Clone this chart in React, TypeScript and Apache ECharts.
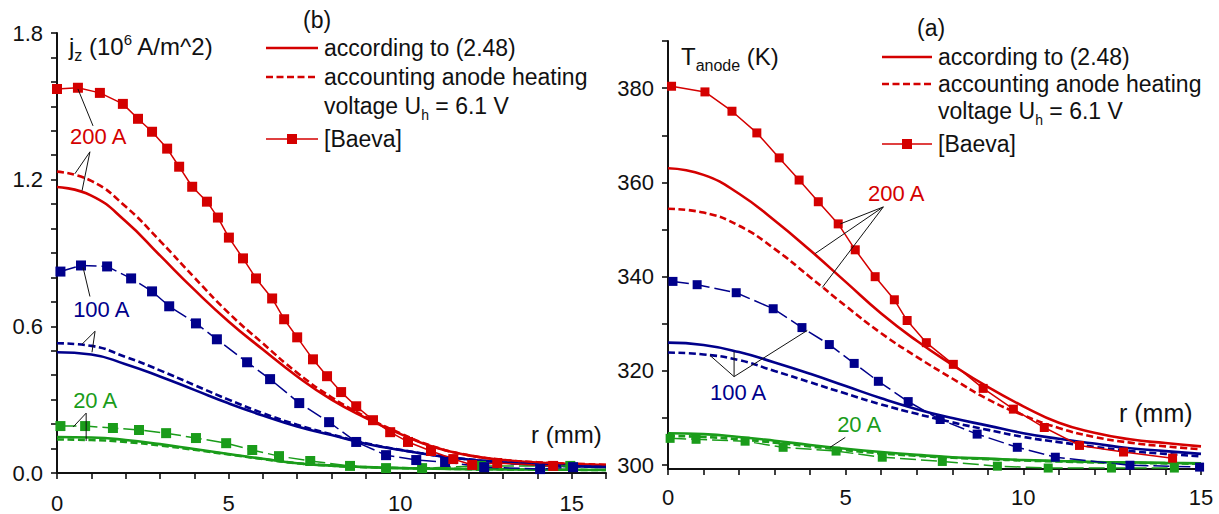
import React, { useEffect, useRef } from 'react';
import * as echarts from 'echarts';

const FONT = '"Liberation Sans", Arial, Helvetica, sans-serif';
const RED = '#d40000';
const BLUE = '#00008b';
const GREEN = '#1a9c1a';
const INK = '#111111';

// ---------- panel (b): j_z (10^6 A/m^2) vs r (mm) ----------
const rModelB = [0, 1, 2, 3, 4, 5, 6, 7, 8, 9, 10, 11, 12, 13, 14, 15, 16];
const j200 = [1.17, 1.135, 1.03, 0.89, 0.75, 0.62, 0.505, 0.395, 0.3, 0.225, 0.16, 0.105, 0.072, 0.053, 0.043, 0.037, 0.033];
const j200Heat = [1.233, 1.195, 1.09, 0.95, 0.8, 0.655, 0.53, 0.41, 0.31, 0.23, 0.163, 0.107, 0.073, 0.054, 0.044, 0.038, 0.034];
const j100 = [0.494, 0.485, 0.445, 0.395, 0.34, 0.285, 0.235, 0.19, 0.155, 0.12, 0.094, 0.072, 0.055, 0.043, 0.034, 0.028, 0.024];
const j100Heat = [0.531, 0.52, 0.475, 0.42, 0.36, 0.3, 0.245, 0.197, 0.158, 0.122, 0.095, 0.073, 0.056, 0.043, 0.034, 0.028, 0.024];
const j20 = [0.147, 0.145, 0.135, 0.118, 0.098, 0.078, 0.058, 0.04, 0.03, 0.024, 0.02, 0.018, 0.016, 0.015, 0.014, 0.013, 0.012];
const j20Heat = [0.137, 0.135, 0.127, 0.113, 0.095, 0.076, 0.057, 0.04, 0.03, 0.024, 0.02, 0.018, 0.016, 0.015, 0.014, 0.013, 0.012];

const rBaeva200B = [0, 0.61, 1.25, 1.92, 2.36, 2.77, 3.21, 3.56, 3.94, 4.37, 4.69, 5.01, 5.42, 5.8, 6.27, 6.62, 7.0, 7.46, 7.87, 8.28, 8.72, 9.21, 9.71, 10.23, 10.9, 11.55, 12.1, 12.83, 14.46];
const jBaeva200 = [1.571, 1.576, 1.555, 1.51, 1.449, 1.396, 1.327, 1.253, 1.171, 1.11, 1.045, 0.963, 0.878, 0.796, 0.714, 0.629, 0.555, 0.465, 0.396, 0.331, 0.273, 0.216, 0.167, 0.127, 0.09, 0.057, 0.033, 0.041, 0.029];
const rBaeva100B = [0.1, 0.7, 1.46, 2.16, 2.77, 3.27, 4.05, 4.66, 5.54, 6.21, 7.06, 7.93, 8.72, 9.59, 10.47, 11.31, 12.45, 14.08, 15.04];
const jBaeva100 = [0.824, 0.849, 0.845, 0.796, 0.743, 0.682, 0.612, 0.547, 0.453, 0.384, 0.286, 0.208, 0.127, 0.073, 0.053, 0.045, 0.024, 0.016, 0.024];
const rBaeva20B = [0.1, 0.82, 1.63, 2.39, 3.18, 4.05, 4.93, 5.69, 6.47, 7.38, 8.54, 9.59, 10.64, 12.36, 14.96];
const jBaeva20 = [0.192, 0.192, 0.184, 0.176, 0.163, 0.143, 0.122, 0.094, 0.069, 0.049, 0.029, 0.02, 0.02, 0.029, 0.029];

const xTicksB = [0, 1, 2, 3, 4, 5, 6, 7, 8, 9, 10, 11, 12, 13, 14, 15, 16];
const xLabelsB = [0, 5, 10, 15];
const yTicksB = [0, 0.1, 0.2, 0.3, 0.4, 0.5, 0.6, 0.7, 0.8, 0.9, 1.0, 1.1, 1.2, 1.3, 1.4, 1.5, 1.6, 1.7, 1.8];
const yLabelsB = [0, 0.6, 1.2, 1.8];

// ---------- panel (a): T_anode (K) vs r (mm) ----------
const rModelA = [0, 1, 2, 3, 4, 5, 6, 7, 8, 9, 10, 11, 12, 13, 14, 15];
const t200 = [363.0, 361.6, 357.6, 351.9, 345.6, 338.9, 332.2, 326.4, 321.3, 316.6, 312.5, 309.0, 306.9, 305.5, 304.7, 304.0];
const t200Heat = [354.4, 353.6, 350.8, 345.9, 339.9, 333.8, 328.0, 323.0, 318.4, 314.0, 310.6, 307.9, 306.0, 304.8, 304.0, 303.4];
const t100 = [326.0, 325.5, 324.0, 321.8, 319.4, 316.8, 314.2, 311.9, 310.0, 308.4, 306.8, 305.6, 304.6, 303.6, 303.0, 302.4];
const t100Heat = [323.9, 323.5, 322.3, 320.0, 317.6, 315.2, 312.9, 310.9, 309.1, 307.5, 306.0, 304.9, 303.9, 303.0, 302.4, 301.9];
const t20 = [306.8, 306.6, 306.0, 305.2, 304.3, 303.5, 302.8, 302.2, 301.7, 301.4, 301.1, 300.9, 300.7, 300.6, 300.5, 300.4];
const t20Heat = [306.2, 306.0, 305.5, 304.8, 304.0, 303.2, 302.5, 302.0, 301.6, 301.3, 301.0, 300.8, 300.6, 300.5, 300.4, 300.3];

const rBaeva200A = [0.1, 1.04, 1.8, 2.5, 3.13, 3.69, 4.23, 4.79, 5.27, 5.83, 6.37, 6.73, 7.27, 8.03, 8.87, 9.72, 10.59, 11.58, 12.82, 14.2];
const tBaeva200 = [380.4, 379.2, 375.1, 370.5, 365.2, 360.5, 355.9, 351.2, 345.7, 340.0, 335.1, 330.7, 326.0, 321.4, 316.3, 311.9, 308.0, 304.2, 302.8, 301.5];
const rBaeva100A = [0.14, 0.82, 1.92, 2.96, 3.77, 4.54, 5.24, 5.92, 6.76, 7.66, 8.7, 9.83, 10.9, 13.0, 14.96];
const tBaeva100 = [339.0, 338.3, 336.6, 333.2, 329.2, 325.6, 321.6, 317.8, 313.5, 309.7, 306.6, 303.8, 301.7, 300.0, 299.6];
const rBaeva20A = [0.06, 0.79, 2.17, 3.24, 4.73, 6.03, 7.72, 9.27, 10.7, 12.48, 14.25];
const tBaeva20 = [305.7, 305.5, 305.1, 303.8, 303.0, 301.7, 300.8, 299.8, 299.4, 299.4, 299.4];

const xTicksA = [0, 1, 2, 3, 4, 5, 6, 7, 8, 9, 10, 11, 12, 13, 14, 15];
const xLabelsA = [0, 5, 10, 15];
const yTicksA = [300, 310, 320, 330, 340, 350, 360, 370, 380, 390];
const yLabelsA = [300, 320, 340, 360, 380];

// ---------- annotations (data coordinates) ----------
const notesB = [
  { text: '200 A', color: RED, at: [0.38, 1.376], lines: [[[0.61, 1.571], [1.05, 1.42]], [[0.96, 1.314], [0.52, 1.224]], [[0.96, 1.314], [0.73, 1.155]]] },
  { text: '100 A', color: BLUE, at: [0.47, 0.669], lines: [[[0.76, 0.841], [0.96, 0.722]], [[1.11, 0.58], [0.73, 0.527]], [[1.11, 0.58], [1.02, 0.494]]] },
  { text: '20 A', color: GREEN, at: [0.47, 0.298], lines: [[[0.85, 0.245], [0.47, 0.188]], [[0.85, 0.245], [0.85, 0.131]]] },
];
const notesA = [
  { text: '200 A', color: RED, at: [5.63, 357.6], lines: [[[6.06, 354.8], [4.85, 351.2]], [[6.06, 354.8], [4.14, 344.9]], [[6.06, 354.8], [4.34, 337.7]]] },
  { text: '100 A', color: BLUE, at: [1.18, 315.4], lines: [[[1.86, 318.8], [1.18, 323.3]], [[1.86, 318.8], [1.86, 324.1]], [[1.86, 318.8], [3.92, 328.6]]] },
  { text: '20 A', color: GREEN, at: [4.76, 308.7], lines: [[[4.99, 305.9], [4.56, 303.8]]] },
];

const pairs = (xs: number[], ys: number[]) => xs.map((x, i) => [x, ys[i]]);

function model(idx: number, xs: number[], ys: number[], color: string, dashed: boolean) {
  return {
    type: 'line', xAxisIndex: idx, yAxisIndex: idx, data: pairs(xs, ys),
    smooth: 0.5, showSymbol: false, symbol: 'none', z: 2,
    lineStyle: { color, width: 2.6, type: dashed ? [7, 3.5] : 'solid' },
  };
}
function baeva(idx: number, xs: number[], ys: number[], color: string, dashed: boolean, size: number) {
  return {
    type: 'line', xAxisIndex: idx, yAxisIndex: idx, data: pairs(xs, ys),
    symbol: 'rect', symbolSize: size, showAllSymbol: true, z: 3,
    itemStyle: { color },
    lineStyle: { color, width: 1.5, type: dashed ? [16, 5] : 'solid' },
  };
}

function axisCommon(ticks: number[], labels: number[], margin: number, fmt: (v: number) => string) {
  return {
    type: 'value',
    axisLine: { show: true, onZero: false, lineStyle: { color: INK, width: 2 } },
    axisTick: { show: true, inside: false, length: 6, customValues: ticks, lineStyle: { color: INK, width: 1.6 } },
    axisLabel: { show: true, customValues: labels, margin, fontSize: 22, fontFamily: FONT, color: INK, formatter: fmt },
    splitLine: { show: false },
  };
}

function legend(x0: number, x1: number, tx: number, ys: number[]) {
  const font = { fontSize: 23, fontFamily: FONT, fill: INK, verticalAlign: 'middle', align: 'left' };
  const cx = (x0 + x1) / 2;
  return [
    { type: 'line', shape: { x1: x0, y1: ys[0], x2: x1, y2: ys[0] }, style: { stroke: RED, lineWidth: 2.6 } },
    { type: 'text', x: tx, y: ys[0], style: { ...font, text: 'according to (2.48)' } },
    { type: 'line', shape: { x1: x0, y1: ys[1], x2: x1, y2: ys[1] }, style: { stroke: RED, lineWidth: 2.6, lineDash: [7, 3.5] } },
    { type: 'text', x: tx, y: ys[1], style: { ...font, text: 'accounting anode heating' } },
    {
      type: 'text', x: tx, y: ys[2],
      style: {
        ...font, text: '{a|voltage U}{s|h}{a| = 6.1 V}',
        rich: {
          a: { fontSize: 23, fontFamily: FONT, fill: INK, lineHeight: 32, verticalAlign: 'middle' },
          s: { fontSize: 14, fontFamily: FONT, fill: INK, lineHeight: 32, verticalAlign: 'bottom' },
        },
      },
    },
    { type: 'line', shape: { x1: x0, y1: ys[3], x2: x1, y2: ys[3] }, style: { stroke: RED, lineWidth: 1.5 } },
    { type: 'rect', shape: { x: cx - 5, y: ys[3] - 5, width: 10, height: 10 }, style: { fill: RED } },
    { type: 'text', x: tx, y: ys[3], style: { ...font, text: '[Baeva]' } },
  ];
}

export default function App() {
  const ref = useRef<HTMLDivElement>(null);
  useEffect(() => {
    if (!ref.current) return;
    const chart = echarts.init(ref.current, undefined, { renderer: 'svg' });
    const option: any = {
      animation: false,
      backgroundColor: '#ffffff',
      grid: [
        { left: 57, top: 33, width: 549, height: 441 },
        { left: 668, top: 41, width: 533, height: 428 },
      ],
      xAxis: [
        { gridIndex: 0, min: 0, max: 16, ...axisCommon(xTicksB, xLabelsB, 19, (v) => String(v)) },
        { gridIndex: 1, min: 0, max: 15, ...axisCommon(xTicksA, xLabelsA, 17, (v) => String(v)) },
      ],
      yAxis: [
        { gridIndex: 0, min: 0, max: 1.8, ...axisCommon(yTicksB, yLabelsB, 14, (v) => v.toFixed(1)) },
        { gridIndex: 1, min: 299.2, max: 390, ...axisCommon(yTicksA, yLabelsA, 14, (v) => String(v)) },
      ],
      series: [
        model(0, rModelB, j200, RED, false),
        model(0, rModelB, j200Heat, RED, true),
        model(0, rModelB, j100, BLUE, false),
        model(0, rModelB, j100Heat, BLUE, true),
        model(0, rModelB, j20, GREEN, false),
        model(0, rModelB, j20Heat, GREEN, true),
        baeva(0, rBaeva20B, jBaeva20, GREEN, true, 10),
        baeva(0, rBaeva100B, jBaeva100, BLUE, true, 10),
        baeva(0, rBaeva200B, jBaeva200, RED, false, 10),
        model(1, rModelA, t200, RED, false),
        model(1, rModelA, t200Heat, RED, true),
        model(1, rModelA, t100, BLUE, false),
        model(1, rModelA, t100Heat, BLUE, true),
        model(1, rModelA, t20, GREEN, false),
        model(1, rModelA, t20Heat, GREEN, true),
        baeva(1, rBaeva20A, tBaeva20, GREEN, true, 9),
        baeva(1, rBaeva100A, tBaeva100, BLUE, true, 9),
        baeva(1, rBaeva200A, tBaeva200, RED, false, 9),
      ],
    };
    chart.setOption(option);

    const graphics: any[] = [];
    const addNotes = (gi: number, notes: any[]) => {
      notes.forEach((n) => {
        n.lines.forEach((seg: number[][]) => {
          const p1 = chart.convertToPixel({ gridIndex: gi } as any, seg[0]) as any;
          const p2 = chart.convertToPixel({ gridIndex: gi } as any, seg[1]) as any;
          graphics.push({ type: 'line', z: 10, shape: { x1: p1[0], y1: p1[1], x2: p2[0], y2: p2[1] }, style: { stroke: INK, lineWidth: 1 } });
        });
        const p = chart.convertToPixel({ gridIndex: gi } as any, n.at) as any;
        graphics.push({ type: 'text', z: 10, x: p[0], y: p[1], style: { text: n.text, fill: n.color, fontSize: 22, fontFamily: FONT, verticalAlign: 'middle', align: 'left' } });
      });
    };
    addNotes(0, notesB);
    addNotes(1, notesA);

    graphics.push(...legend(266, 318, 324, [48, 77, 106, 139]));
    graphics.push(...legend(882, 932, 938, [57, 84, 111, 144]));

    const titleRich = {
      a: { fontSize: 24, fontFamily: FONT, fill: INK, lineHeight: 34, verticalAlign: 'middle' },
      s: { fontSize: 16, fontFamily: FONT, fill: INK, lineHeight: 34, verticalAlign: 'bottom' },
      p: { fontSize: 15, fontFamily: FONT, fill: INK, lineHeight: 34, verticalAlign: 'top', padding: [3, 0, 0, 0] },
    };
    graphics.push({ type: 'text', x: 69, y: 46, style: { text: '{a|j}{s|z}{a| (10}{p|6}{a| A/m^2)}', rich: titleRich, verticalAlign: 'middle', align: 'left' } });
    graphics.push({ type: 'text', x: 681, y: 56, style: { text: '{a|T}{s|anode}{a| (K)}', rich: titleRich, verticalAlign: 'middle', align: 'left' } });
    graphics.push({ type: 'text', x: 303, y: 20, style: { text: '(b)', fontSize: 23, fontFamily: FONT, fill: INK, verticalAlign: 'middle' } });
    graphics.push({ type: 'text', x: 917, y: 28, style: { text: '(a)', fontSize: 23, fontFamily: FONT, fill: INK, verticalAlign: 'middle' } });
    graphics.push({ type: 'text', x: 531, y: 434, style: { text: 'r (mm)', fontSize: 24, fontFamily: FONT, fill: INK, verticalAlign: 'middle' } });
    graphics.push({ type: 'text', x: 1119, y: 413, style: { text: 'r (mm)', fontSize: 25, fontFamily: FONT, fill: INK, verticalAlign: 'middle' } });

    chart.setOption({ graphic: graphics });
    return () => chart.dispose();
  }, []);
  return <div ref={ref} style={{ position: 'fixed', left: 0, top: 0, width: 1219, height: 514, background: '#fff' }} />;
}
